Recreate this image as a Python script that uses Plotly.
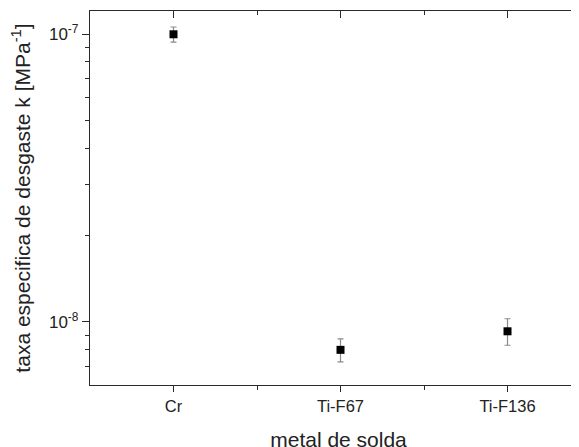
import plotly.graph_objects as go

categories = ["Cr", "Ti-F67", "Ti-F136"]
k_values = [9.98e-8, 8.0e-9, 9.28e-9]
k_errors = [0.6e-8, 0.73e-9, 0.98e-9]

y_major_vals = [1e-8, 1e-7]
y_major_text = ["10<sup>-8</sup>", "10<sup>-7</sup>"]
y_minor_vals = [7e-9, 8e-9, 9e-9, 2e-8, 3e-8, 4e-8, 5e-8, 6e-8, 7e-8, 8e-8, 9e-8]

positions = list(range(1, len(categories) + 1))
minor_x = [p + 0.5 for p in positions[:-1]]

axis_color = "#2a2a2a"
font_family = "Liberation Sans, Arial, sans-serif"

fig = go.Figure()
fig.add_trace(go.Scatter(
    x=positions, y=k_values, mode="markers",
    marker=dict(symbol="square", size=8, color="black"),
    error_y=dict(type="data", array=k_errors, visible=True, color="#8a8a8a", thickness=1.2, width=3),
    showlegend=False,
))
# invisible trace for top mirror axis
fig.add_trace(go.Scatter(x=positions, y=k_values, xaxis="x2", mode="markers",
                         marker=dict(opacity=0), showlegend=False, hoverinfo="skip"))

xr = [0.5, 3.476]
fig.update_layout(
    width=579, height=447,
    margin=dict(l=82, r=0, t=3, b=70),
    paper_bgcolor="white", plot_bgcolor="white",
    font=dict(family=font_family, color="#222", size=16),
    xaxis=dict(
        range=xr, tickmode="array", tickvals=positions, ticktext=categories, automargin=False,
        showline=True, linecolor=axis_color, linewidth=1.3, mirror=False,
        ticks="outside", ticklen=6, tickwidth=1.3, tickcolor=axis_color,
        minor=dict(tickmode="array", tickvals=minor_x, ticks="outside", ticklen=4, tickwidth=1.3, tickcolor=axis_color),
        showgrid=False, zeroline=False, tickfont=dict(size=16.5),
        title=dict(text="metal de solda", font=dict(size=21), standoff=18),
    ),
    xaxis2=dict(
        range=xr, overlaying="x", side="top", tickmode="array", tickvals=positions, automargin=False,
        showticklabels=False, showline=True, linecolor=axis_color, linewidth=1.3,
        ticks="inside", ticklen=7, tickwidth=1.3, tickcolor=axis_color,
        minor=dict(tickmode="array", tickvals=minor_x, ticks="inside", ticklen=4, tickwidth=1.3, tickcolor=axis_color),
        showgrid=False, zeroline=False,
    ),
    yaxis=dict(
        type="log", range=[-8.219, -6.92], tickmode="array", tickvals=y_major_vals, ticktext=y_major_text,
        automargin=False,
        showline=True, linecolor=axis_color, linewidth=1.3, mirror=False,
        ticks="outside", ticklen=7, tickwidth=1.3, tickcolor=axis_color,
        minor=dict(tickmode="array", tickvals=y_minor_vals, ticks="outside", ticklen=4, tickwidth=1.3, tickcolor=axis_color),
        showgrid=False, zeroline=False, tickfont=dict(size=17),
        title=dict(text="taxa especifica de desgaste k [MPa<sup>-1</sup>]", font=dict(size=21), standoff=12),
    ),
)
fig.write_html("out.html")
